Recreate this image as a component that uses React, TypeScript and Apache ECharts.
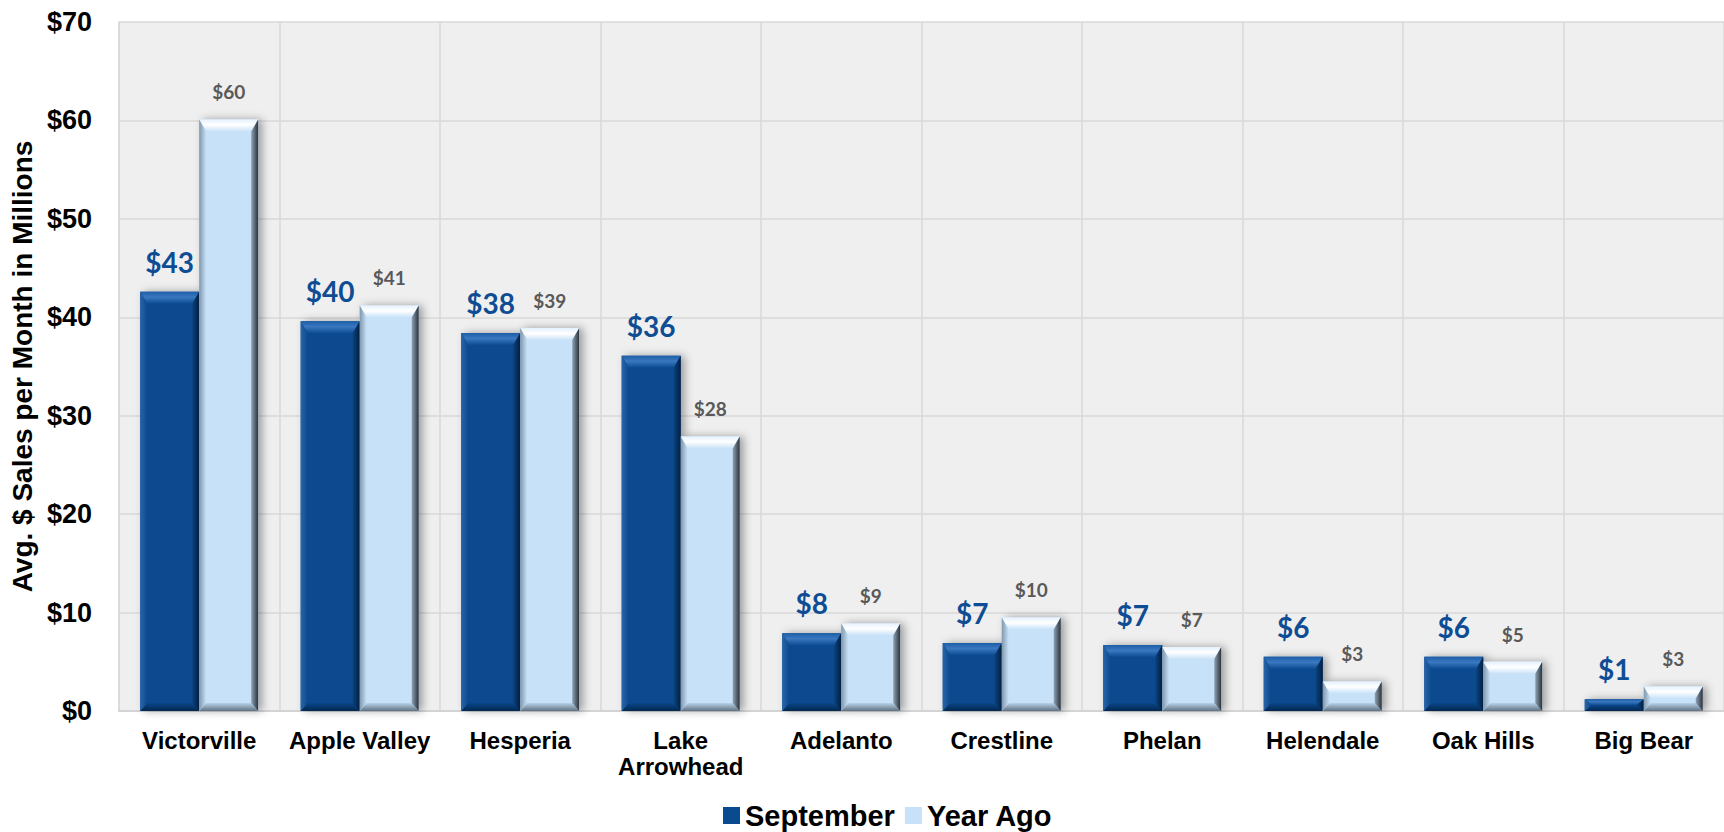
import React, { useEffect, useRef } from "react";
import * as echarts from "echarts";

const categories = [
  "Victorville",
  "Apple Valley",
  "Hesperia",
  "Lake\nArrowhead",
  "Adelanto",
  "Crestline",
  "Phelan",
  "Helendale",
  "Oak Hills",
  "Big Bear",
];
const september = [42.6, 39.6, 38.4, 36.1, 7.9, 6.9, 6.7, 5.5, 5.5, 1.2];
const yearAgo = [60.1, 41.2, 38.9, 27.9, 8.9, 9.5, 6.5, 3.0, 5.0, 2.5];
const yTicks = { min: 0, max: 70, interval: 10 };

const BAR_W = 59;
const ARIAL = "'Liberation Sans', Arial, Helvetica, sans-serif";
const LABEL_FONT = "Lato, 'Open Sans', sans-serif";

const lg = (stops: [number, string][], horizontal = false) =>
  new echarts.graphic.LinearGradient(0, 0, horizontal ? 1 : 0, horizontal ? 0 : 1,
    stops.map(([offset, color]) => ({ offset, color })));

type Stops = [number, string][];
type Pal = { top: Stops; left: Stops; right: Stops; bottom: Stops };

const sepPal: Pal = {
  top: [[0, "#1d5ea8"], [0.45, "#3a78c0"], [1, "#0d4c92"]],
  left: [[0, "#2a64a8"], [1, "#0b4a8e"]],
  right: [[0, "#0a437f"], [1, "#021f42"]],
  bottom: [[0, "#0a468a"], [1, "#03284f"]],
};
const yaPal: Pal = {
  top: [[0, "#e4f2ff"], [0.45, "#ffffff"], [1, "#c9e2f8"]],
  left: [[0, "#7f97ac"], [1, "#c7e1f8"]],
  right: [[0, "#8fa3b5"], [1, "#28323b"]],
  bottom: [[0, "#b9d2e8"], [1, "#5f7283"]],
};

function bevel(side: number, pal: Pal) {
  return (params: any, api: any) => {
    const idx = api.value(0);
    const v = api.value(1);
    const top = api.coord([idx, v]);
    const base = api.coord([idx, 0]);
    const l = side < 0 ? top[0] - BAR_W : top[0];
    const r = l + BAR_W;
    const t = top[1];
    const b = base[1];
    const h = b - t;
    const et = Math.min(12, h / 2);
    const es = 7;
    const eb = Math.min(8, h / 2);
    return {
      type: "group",
      children: [
        {
          type: "polygon",
          shape: { points: [[l, t], [r, t], [r - es, t + et], [l + es, t + et]] },
          style: { fill: lg(pal.top) },
        },
        {
          type: "polygon",
          shape: { points: [[l, b], [r, b], [r - es, b - eb], [l + es, b - eb]] },
          style: { fill: lg(pal.bottom) },
        },
        {
          type: "polygon",
          shape: { points: [[l, t], [l + es, t + et], [l + es, b - eb], [l, b]] },
          style: { fill: lg(pal.left, true) },
        },
        {
          type: "polygon",
          shape: { points: [[r, t], [r, b], [r - es, b - eb], [r - es, t + et]] },
          style: { fill: lg(pal.right, true) },
        },
      ],
    };
  };
}

export default function App() {
  const ref = useRef<HTMLDivElement>(null);
  useEffect(() => {
    if (!ref.current) return;
    const chart = echarts.init(ref.current, null, { renderer: "svg" });
    const fmt = (p: any) => "$" + Math.round(p.value);
    chart.setOption({
      animation: false,
      backgroundColor: "#ffffff",
      grid: {
        left: 118,
        right: -6,
        top: 22,
        bottom: 121,
        show: true,
        backgroundColor: "#efefef",
        borderWidth: 0,
      },
      legend: {
        data: ["September", "Year Ago"],
        left: 718,
        top: 796,
        itemWidth: 17,
        itemHeight: 17,
        itemGap: 10,
        icon: "rect",
        textStyle: { fontFamily: ARIAL, fontWeight: "bold", fontSize: 29, color: "#000" },
      },
      xAxis: {
        type: "category",
        data: categories,
        axisLine: { show: true, lineStyle: { color: "#d4d4d4", width: 2 } },
        axisTick: { show: false },
        splitLine: { show: true, lineStyle: { color: "#d9d9d9", width: 1.5 } },
        axisLabel: {
          interval: 0,
          margin: 16,
          fontFamily: ARIAL,
          fontWeight: "bold",
          fontSize: 24,
          lineHeight: 26,
          color: "#000",
        },
      },
      yAxis: {
        type: "value",
        min: yTicks.min,
        max: yTicks.max,
        interval: yTicks.interval,
        name: "Avg. $ Sales per Month in Millions",
        nameLocation: "middle",
        nameRotate: 90,
        nameGap: 82,
        nameTextStyle: { fontFamily: ARIAL, fontWeight: "bold", fontSize: 28, color: "#000" },
        axisLine: { show: true, lineStyle: { color: "#d9d9d9", width: 1.5 } },
        axisTick: { show: false },
        splitLine: { show: true, lineStyle: { color: "#d9d9d9", width: 1.5 } },
        axisLabel: {
          margin: 27,
          formatter: (v: number) => "$" + v,
          fontFamily: ARIAL,
          fontWeight: "bold",
          fontSize: 27,
          color: "#000",
        },
      },
      series: [
        {
          name: "September",
          type: "bar",
          data: september,
          barWidth: BAR_W,
          barGap: "0%",
          itemStyle: {
            color: "#0a4a8e",
            shadowColor: "rgba(0,0,0,0.35)",
            shadowBlur: 8,
            shadowOffsetX: 4,
          },
          label: {
            show: true,
            position: "top",
            distance: 16,
            formatter: fmt,
            fontFamily: LABEL_FONT,
            fontWeight: "bold",
            fontSize: 28,
            color: "#0e4c94",
          },
          z: 2,
        },
        {
          name: "Year Ago",
          type: "bar",
          data: yearAgo,
          barWidth: BAR_W,
          barGap: "0%",
          itemStyle: {
            color: "#c7e1f8",
            shadowColor: "rgba(0,0,0,0.35)",
            shadowBlur: 8,
            shadowOffsetX: 4,
          },
          label: {
            show: true,
            position: "top",
            distance: 18,
            formatter: fmt,
            fontFamily: LABEL_FONT,
            fontWeight: "bold",
            fontSize: 19,
            color: "#595959",
          },
          z: 2,
        },
        {
          name: "sepBevel",
          type: "custom",
          silent: true,
          z: 3,
          data: september.map((v, i) => [i, v]),
          encode: { x: 0, y: 1 },
          renderItem: bevel(-1, sepPal),
        },
        {
          name: "yaBevel",
          type: "custom",
          silent: true,
          z: 3,
          data: yearAgo.map((v, i) => [i, v]),
          encode: { x: 0, y: 1 },
          renderItem: bevel(1, yaPal),
        },
      ],
    });
    return () => chart.dispose();
  }, []);
  return (
    <div
      ref={ref}
      style={{ position: "absolute", left: 0, top: 0, width: 1724, height: 832 }}
    />
  );
}
